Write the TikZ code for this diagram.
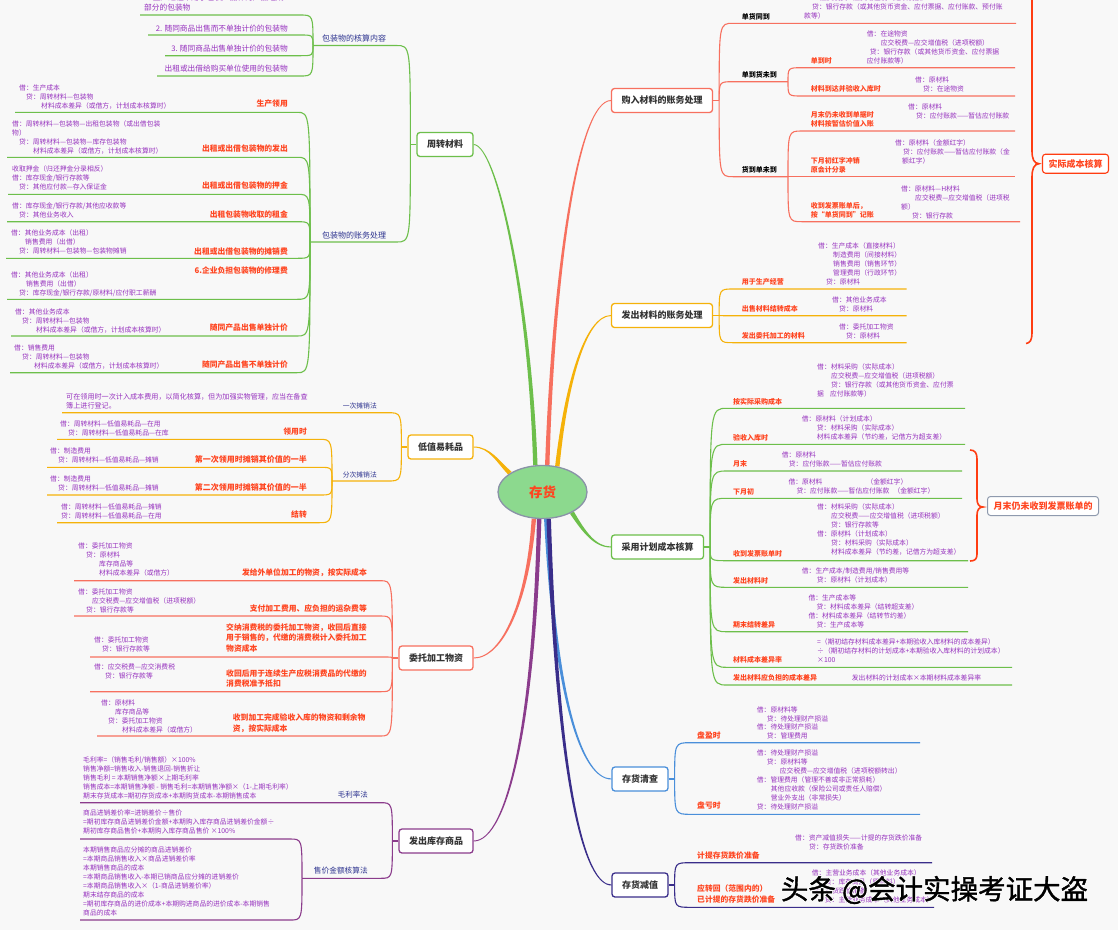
\documentclass[tikz,border=0pt]{standalone}
\usepackage{fontspec}
\setmainfont{Noto Sans CJK SC}
\newfontfamily\wmhalo{Noto Sans CJK SC}[FakeBold=7]
\newfontfamily\wmtext{Noto Sans CJK SC}[FakeBold=1.5]
\usetikzlibrary{calc,shapes.geometric,backgrounds}
\definecolor{bgc}{HTML}{F8F8F8}
\definecolor{cgreen}{HTML}{6DBF4B}
\definecolor{cred}{HTML}{F7705F}
\definecolor{corange}{HTML}{F5B20A}
\definecolor{cpurple}{HTML}{8B3C8C}
\definecolor{cblue}{HTML}{4A8FDA}
\definecolor{cindigo}{HTML}{3A2E8A}
\definecolor{tpur}{HTML}{9631BE}
\definecolor{tred}{HTML}{FF4520}
\definecolor{tnavy}{HTML}{2D338F}
\definecolor{tbox}{HTML}{333333}
\definecolor{bracec}{HTML}{FF3D12}
\definecolor{ellf}{HTML}{8CD98E}
\definecolor{elld}{HTML}{8A92A8}
\definecolor{graybd}{HTML}{8F9AAE}
\newcommand\ii[1]{\hspace*{#1pt}}
\newcommand\kid[4]{\draw[#1] (#2) .. controls ($(#2 |- #4)$) and ($(#2 |- #4)$) .. ($(#2 |- #4)+(#3,0)$) -- (#4);}
\newcommand\taper[5]{\fill[#1] ($#2!2.2pt!90:#3$) .. controls ($#3!1.4pt!90:#4$) and ($#4!0.8pt!-90:#3$) .. ($#5!0.5pt!-90:#4$) -- ($#5!0.5pt!90:#4$) .. controls ($#4!0.8pt!90:#3$) and ($#3!1.4pt!-90:#4$) .. ($#2!2.2pt!-90:#3$) -- cycle;}
\tikzset{
 box/.style={draw, rounded corners=3pt, line width=1.3pt, fill=white, inner xsep=10pt, inner ysep=0pt, minimum height=24pt, text=tbox, font=\fontsize{9}{11}\selectfont\bfseries},
 pur/.style={anchor=north west, inner sep=0pt, align=left, text=tpur, font=\fontsize{6.8}{9}\selectfont},
 purl/.style={inner sep=0pt, text=tpur, font=\fontsize{7.7}{9.3}\selectfont},
 lred/.style={inner sep=0pt, text=tred, font=\fontsize{7.8}{10.3}\selectfont\bfseries},
 sred/.style={inner sep=0pt, text=tred, font=\fontsize{7}{9}\selectfont\bfseries},
 lnavy/.style={inner sep=0pt, text=tnavy, font=\fontsize{7.5}{9}\selectfont},
 lblk/.style={inner sep=0pt, text=black, font=\fontsize{7}{9}\selectfont\bfseries},
 br/.style={line width=1.1pt},
 bracel/.style={draw=bracec, line width=1.6pt},
}
\begin{document}
\begin{tikzpicture}[x=1pt,y=-1pt]
\useasboundingbox (0,0) rectangle (1118,930);
% ---------- central node and main boxes
\node[ellipse, draw=elld, line width=1.3pt, fill=ellf, minimum width=89pt, minimum height=53pt, inner sep=0pt, text=tred, font=\fontsize{13.5}{15}\selectfont\bfseries] (cx) at (542.5,492) {存货};
\node[box, draw=cgreen] (zz) at (445,144.5) {周转材料};
\node[box, draw=cred] (gr) at (662,100.5) {购入材料的账务处理};
\node[box, draw=corange] (fc) at (662,315.5) {发出材料的账务处理};
\node[box, draw=corange] (dz) at (440.5,447) {低值易耗品};
\node[box, draw=cgreen] (jh) at (657.5,547) {采用计划成本核算};
\node[box, draw=cred] (wt) at (436,658) {委托加工物资};
\node[box, draw=cpurple] (ck) at (436,841) {发出库存商品};
\node[box, draw=cblue] (qc) at (640,779) {存货清查};
\node[box, draw=cindigo] (jz) at (640,885) {存货减值};
\begin{pgfonlayer}{background}
\fill[bgc] (0,0) rectangle (1118,930);
\taper{cgreen}{(cx.105)}{(530,300)}{(497,145)}{(zz.east)}
\taper{cred}{(cx.80)}{(553,280)}{(577,101)}{(gr.west)}
\taper{corange}{(cx.60)}{(566,385)}{(585,316)}{(fc.west)}
\taper{corange}{(cx.150)}{(498,462)}{(490,447)}{(dz.east)}
\taper{cgreen}{(cx.-35)}{(584,532)}{(595,547)}{(jh.west)}
\taper{cred}{(cx.-108)}{(528,600)}{(503,658)}{(wt.east)}
\taper{cpurple}{(cx.-97)}{(534,720)}{(508,841)}{(ck.east)}
\taper{cblue}{(cx.-82)}{(555,700)}{(582,779)}{(qc.west)}
\taper{cindigo}{(cx.-77)}{(558,790)}{(585,885)}{(jz.west)}
\end{pgfonlayer}

% ================= 周转材料
\coordinate (zzj) at ($(zz.west)+(-6,0)$);
\draw[br,cgreen] (zz.west) -- (zzj);
\coordinate (hs) at (313,45.5);
\coordinate (hz) at (310,242);
\kid{br,cgreen}{zzj}{-14}{hs}
\kid{br,cgreen}{zzj}{-14}{hz}
\node[lnavy, font=\fontsize{8}{9}\selectfont, anchor=west] (hsl) at (322,38) {包装物的核算内容};
\node[lnavy, font=\fontsize{8}{9}\selectfont, anchor=west] (hzl) at (322,235) {包装物的账务处理};
\coordinate (h1) at (140,15); \coordinate (h2) at (148,35); \coordinate (h3) at (165,55.7); \coordinate (h4) at (157,76);
\kid{br,cgreen}{hs}{-13}{h1}
\kid{br,cgreen}{hs}{-13}{h2}
\kid{br,cgreen}{hs}{-13}{h3}
\kid{br,cgreen}{hs}{-13}{h4}
\node[purl, anchor=north west, align=left] (t1) at (144,-6) {1. 生产过程中用于包装产品作为产品组成\\部分的包装物};
\node[purl, anchor=east] (t2) at (288,28.3) {2. 随同商品出售而不单独计价的包装物};
\node[purl, anchor=east] (t3) at (288,48.3) {3. 随同商品出售单独计价的包装物};
\node[purl, anchor=east] (t4) at (288,68.3) {出租或出借给购买单位使用的包装物};
\coordinate (z1) at (15,112.3); \coordinate (z2) at (7,157.3); \coordinate (z3) at (8,194.3); \coordinate (z4) at (7,221.7);
\coordinate (z5) at (6,258.3); \coordinate (z6) at (7,299.3); \coordinate (z7) at (11,336); \coordinate (z8) at (10,372.7);
\foreach \k in {z1,z2,z3,z4,z5,z6,z7,z8} {\kid{br,cgreen}{hz}{-13}{\k}}
\node[lred, anchor=east] (zl1) at (288,104) {生产领用};
\node[lred, anchor=east] (zl2) at (288,149) {出租或出借包装物的发出};
\node[lred, anchor=east] (zl3) at (288,186) {出租或出借包装物的押金};
\node[lred, anchor=east] (zl4) at (288,214.3) {出租包装物收取的租金};
\node[lred, anchor=east] (zl5) at (288,251.3) {出租或出借包装物的摊销费};
\node[lred, anchor=east] (zl6) at (288,271) {6.企业负担包装物的修理费};
\node[lred, anchor=east] (zl7) at (288,327.7) {随同产品出售单独计价};
\node[lred, anchor=east] (zl8) at (288,365) {随同产品出售不单独计价};
\node[pur] (zp1) at (19,87.7-3.6) {借：生产成本\\ \ii{7}贷：周转材料—包装物\\ \ii{22}材料成本差异（或借方，计划成本核算时）};
\node[pur] (zp2) at (12,124-3.6) {借：周转材料—包装物—出租包装物（或出借包装\\物）\\ \ii{7}贷：周转材料—包装物—库存包装物\\ \ii{21}材料成本差异（或借方，计划成本核算时）};
\node[pur] (zp3) at (12,169.3-3.6) {收取押金（归还押金分录相反）\\借：库存现金/银行存款等\\ \ii{7}贷：其他应付款—存入保证金};
\node[pur] (zp4) at (12,206-3.6) {借：库存现金/银行存款/其他应收款等\\ \ii{7}贷：其他业务收入};
\node[pur] (zp5) at (11,233.3-3.6) {借：其他业务成本（出租）\\ \ii{14}销售费用（出借）\\ \ii{8}贷：周转材料—包装物—包装物摊销};
\node[pur] (zp6) at (11,274.7-3.6) {借：其他业务成本（出租）\\ \ii{15}销售费用（出借）\\ \ii{8}贷：库存现金/银行存款/原材料/应付职工薪酬};
\node[pur] (zp7) at (15,311.7-3.6) {借：其他业务成本\\ \ii{7}贷：周转材料—包装物\\ \ii{21}材料成本差异（或借方，计划成本核算时）};
\node[pur] (zp8) at (14,348-3.6) {借：销售费用\\ \ii{8}贷：周转材料—包装物\\ \ii{20}材料成本差异（或借方，计划成本核算时）};

% ================= 低值易耗品
\coordinate (dzj) at ($(dz.west)+(-6,0)$);
\draw[br,corange] (dz.west) -- (dzj);
\coordinate (d1) at (62,412.7); \coordinate (d2) at (332,481);
\kid{br,corange}{dzj}{-14}{d1}
\kid{br,corange}{dzj}{-14}{d2}
\node[lnavy, font=\fontsize{6.8}{9}\selectfont, anchor=east] (dl1) at (377,405.7) {一次摊销法};
\node[lnavy, font=\fontsize{6.8}{9}\selectfont, anchor=east] (dl2) at (377,475) {分次摊销法};
\node[pur, font=\fontsize{7.1}{9}\selectfont] (dp0) at (66,396.7-3.6) {可在领用时一次计入成本费用，以简化核算，但为加强实物管理，应当在备查\\簿上进行登记。};
\coordinate (d3) at (57,439.3); \coordinate (d4) at (47,467.3); \coordinate (d5) at (47,495); \coordinate (d6) at (57,522.7);
\foreach \k in {d3,d4,d5,d6} {\kid{br,corange}{d2}{-13}{\k}}
\node[lred, anchor=east] (dl3) at (307,432) {领用时};
\node[lred, font=\fontsize{8}{10}\selectfont\bfseries, anchor=east] (dl4) at (307,459.3) {第一次领用时摊销其价值的一半};
\node[lred, font=\fontsize{8}{10}\selectfont\bfseries, anchor=east] (dl5) at (307,487.3) {第二次领用时摊销其价值的一半};
\node[lred, anchor=east] (dl6) at (307,515) {结转};
\node[pur] (dp3) at (60,423.7-3.6) {借：周转材料—低值易耗品—在用\\ \ii{8}贷：周转材料—低值易耗品—在库};
\node[pur] (dp4) at (50,451.3-3.6) {借：制造费用\\ \ii{8}贷：周转材料—低值易耗品—摊销};
\node[pur] (dp5) at (50,479.3-3.6) {借：制造费用\\ \ii{8}贷：周转材料—低值易耗品—摊销};
\node[pur] (dp6) at (61,506.7-3.6) {借：周转材料—低值易耗品—摊销\\贷：周转材料—低值易耗品—在用};

% ================= 委托加工物资
\coordinate (wtj) at ($(wt.west)+(-6,0)$);
\draw[br,cred] (wt.west) -- (wtj);
\coordinate (w1) at (74,580.7); \coordinate (w2) at (74,616); \coordinate (w3) at (90,657); \coordinate (w4) at (90,691.7); \coordinate (w5) at (97,736);
\foreach \k in {w1,w2,w3,w4,w5} {\kid{br,cred}{wtj}{-12}{\k}}
\node[lred, anchor=east] (wl1) at (367,572.7) {发给外单位加工的物资，按实际成本};
\node[lred, anchor=east] (wl2) at (367,608.3) {支付加工费用、应负担的运杂费等};
\node[lred, anchor=north west, align=left] (wl3) at (226,628-4.5) {交纳消费税的委托加工物资，收回后直接\\用于销售的，代缴的消费税计入委托加工\\物资成本};
\node[lred, anchor=north west, align=left] (wl4) at (226,673.7-4.5) {收回后用于连续生产应税消费品的代缴的\\消费税准予抵扣};
\node[lred, anchor=north west, align=left] (wl5) at (232.7,718.3-4.5) {收到加工完成验收入库的物资和剩余物\\资，按实际成本};
\node[pur] (wp1) at (78,546-3.6) {借：委托加工物资\\ \ii{8}贷：原材料\\ \ii{21}库存商品等\\ \ii{21}材料成本差异（或借方）};
\node[pur] (wp2) at (78,591.7-3.6) {借：委托加工物资\\ \ii{14}应交税费—应交增值税（进项税额）\\ \ii{8}贷：银行存款等};
\node[pur] (wp3) at (94,640.3-3.6) {借：委托加工物资\\ \ii{8}贷：银行存款等};
\node[pur] (wp4) at (94,667.3-3.6) {借：应交税费—应交消费税\\ \ii{11}贷：银行存款等};
\node[pur] (wp5) at (101,702.7-3.6) {借：原材料\\ \ii{14}库存商品等\\ \ii{7}贷：委托加工物资\\ \ii{21}材料成本差异（或借方）};

% ================= 发出库存商品
\coordinate (ckj) at ($(ck.west)+(-6,0)$);
\draw[br,cpurple] (ck.west) -- (ckj);
\coordinate (k1) at (80,802.7); \coordinate (k2) at (302,878.3);
\kid{br,cpurple}{ckj}{-12}{k1}
\kid{br,cpurple}{ckj}{-12}{k2}
\node[lnavy, anchor=east] (kl1) at (368,795) {毛利率法};
\node[lnavy, font=\fontsize{7.7}{9}\selectfont, anchor=east] (kl2) at (368,871) {售价金额核算法};
\coordinate (k3) at (80,839); \coordinate (k4) at (80,920);
\kid{br,cpurple}{k2}{-12}{k3}
\kid{br,cpurple}{k2}{-12}{k4}
\node[pur] (kp1) at (83,760-3.6) {毛利率=（销售毛利/销售额）×100\%\\销售净额=销售收入-销售退回-销售折让\\销售毛利 = 本期销售净额×上期毛利率\\销售成本=本期销售净额 - 销售毛利=本期销售净额×（1-上期毛利率）\\期末存货成本=期初存货成本+本期购货成本-本期销售成本};
\node[pur] (kp2) at (83,812.7-3.6) {商品进销差价率=进销差价÷售价\\=期初库存商品进销差价金额+本期购入库存商品进销差价金额÷\\期初库存商品售价+本期购入库存商品售价 ×100\%};
\node[pur] (kp3) at (83,850-3.6) {本期销售商品应分摊的商品进销差价\\=本期商品销售收入×商品进销差价率\\本期销售商品的成本\\=本期商品销售收入-本期已销商品应分摊的进销差价\\=本期商品销售收入×（1-商品进销差价率）\\期末结存商品的成本\\=期初库存商品的进价成本+本期购进商品的进价成本-本期销售\\商品的成本};

% ================= 购入材料的账务处理
\coordinate (grj) at ($(gr.east)+(6,0)$);
\draw[br,cred] (gr.east) -- (grj);
\coordinate (g1) at (1016,23.3); \coordinate (g2) at (788,81.7); \coordinate (g3) at (788,176.7);
\foreach \k in {g1,g2,g3} {\kid{br,cred}{grj}{14}{\k}}
\node[lblk, anchor=west] (gl1) at (741.7,16.7) {单货同到};
\node[lblk, anchor=west] (gl2) at (741.7,75) {单到货未到};
\node[lblk, anchor=west] (gl3) at (741.7,170) {货到单未到};
\node[pur, font=\fontsize{6.8}{9.3}\selectfont] (gp1) at (804,-11.3-3.6) {\ii{8}借：原材料\\ \ii{16}应交税费—应交增值税（进项税额）\\ \ii{8}贷：银行存款（或其他货币资金、应付票据、应付账款、预付账\\款等）};
\coordinate (g21) at (1015,67.7); \coordinate (g22) at (1015,96);
\kid{br,cred}{g2}{14}{g21}
\kid{br,cred}{g2}{14}{g22}
\node[sred, anchor=west] (gl21) at (810.7,61) {单到时};
\node[sred, anchor=west] (gl22) at (810.7,88.7) {材料到达并验收入库时};
\node[pur] (gp21) at (866.7,34-3.6) {借：在途物资\\ \ii{14}应交税费—应交增值税（进项税额）\\ \ii{3}贷：银行存款（或其他货币资金、应付票据\\应付账款等）};
\node[pur] (gp22) at (915,80-3.6) {借：原材料\\ \ii{8}贷：在途物资};
\coordinate (g31) at (1015,131); \coordinate (g32) at (1015,176.7); \coordinate (g33) at (1020,221.7);
\foreach \k in {g31,g32,g33} {\kid{br,cred}{g3}{14}{\k}}
\node[sred, anchor=north west, align=left] (gl31) at (810.7,115.7-4) {月末仍未收到单据时\\材料按暂估价值入账};
\node[sred, anchor=north west, align=left] (gl32) at (810.7,161-4) {下月初红字冲销\\原会计分录};
\node[sred, anchor=north west, align=left] (gl33) at (810.7,206.3-4) {收到发票账单后，\\按“单货同到”记账};
\node[pur] (gp31) at (908,106.7-3.6) {借：原材料\\ \ii{8}贷：应付账款——暂估应付账款};
\node[pur] (gp32) at (895,143.3-3.6) {借：原材料（金额红字）\\ \ii{8}贷：应付账款——暂估应付账款（金\\ \ii{7}额红字）};
\node[pur] (gp33) at (901,188.7-3.6) {借：原材料—H材料\\ \ii{14}应交税费—应交增值税（进项税\\额）\\ \ii{11}贷：银行存款};
\draw[bracel] (1025,-14) .. controls (1031,-14) and (1032,-9) .. (1032,-2) -- (1032,151) .. controls (1032,159) and (1034,163.5) .. (1039,163.7) .. controls (1034,164) and (1032,169) .. (1032,177) -- (1032,333) .. controls (1032,340) and (1030,343) .. (1026,343.5);
\node[box, draw=bracec, line width=1.1pt, text=tred, font=\fontsize{9}{11}\selectfont\bfseries, minimum height=19pt, inner xsep=6pt] (sj) at (1075.5,163.7) {实际成本核算};

% ================= 发出材料的账务处理
\coordinate (fcj) at ($(fc.east)+(6,0)$);
\draw[br,corange] (fc.east) -- (fcj);
\coordinate (f1) at (906.7,289); \coordinate (f2) at (906.7,315.7); \coordinate (f3) at (906.7,342.7);
\foreach \k in {f1,f2,f3} {\kid{br,corange}{fcj}{14}{\k}}
\node[sred, anchor=west] (fl1) at (741.7,281.7) {用于生产经营};
\node[sred, anchor=west] (fl2) at (741.7,309) {出售材料结转成本};
\node[sred, anchor=west] (fl3) at (741.7,335.7) {发出委托加工的材料};
\node[pur] (fp1) at (818,246-3.6) {借：生产成本（直接材料）\\ \ii{15}制造费用（间接材料）\\ \ii{15}销售费用（销售环节）\\ \ii{15}管理费用（行政环节）\\ \ii{8}贷：原材料};
\node[pur] (fp2) at (832,300-3.6) {借：其他业务成本\\ \ii{7}贷：原材料};
\node[pur] (fp3) at (839,326.7-3.6) {借：委托加工物资\\ \ii{7}贷：原材料};

% ================= 采用计划成本核算
\coordinate (jhj) at ($(jh.east)+(6,0)$);
\draw[br,cgreen] (jh.east) -- (jhj);
\coordinate (j1) at (965,408.3); \coordinate (j2) at (965,444.3); \coordinate (j3) at (962,471); \coordinate (j4) at (962,498.3);
\coordinate (j5) at (968,560.7); \coordinate (j6) at (968,587.3); \coordinate (j7) at (968,631.7); \coordinate (j8) at (1012,667.3); \coordinate (j9) at (1012,685);
\foreach \k in {j1,j2,j3,j4,j5,j6,j7,j8,j9} {\kid{br,cgreen}{jhj}{17}{\k}}
\node[sred, anchor=west] (jl1) at (733,401.7) {按实际采购成本};
\node[sred, anchor=west] (jl2) at (733,437.7) {验收入库时};
\node[sred, anchor=west] (jl3) at (733,464.3) {月末};
\node[sred, anchor=west] (jl4) at (733,491.7) {下月初};
\node[sred, anchor=west] (jl5) at (733,554) {收到发票账单时};
\node[sred, anchor=west] (jl6) at (733,580.7) {发出材料时};
\node[sred, anchor=west] (jl7) at (733,625) {期末结转差异};
\node[sred, anchor=west] (jl8) at (733,660) {材料成本差异率};
\node[sred, anchor=west] (jl9) at (733,678.3) {发出材料应负担的成本差异};
\node[pur] (jp1) at (817,366.7-3.6) {借：材料采购（实际成本）\\ \ii{14}应交税费—应交增值税（进项税额）\\ \ii{14}贷：银行存款（或其他货币资金、应付票\\据\ii{6}应付账款等）};
\node[pur] (jp2) at (801.7,419.3-3.6) {借：原材料（计划成本）\\ \ii{15}贷：材料采购（实际成本）\\ \ii{15}材料成本差异（节约差，记借方为超支差）};
\node[pur] (jp3) at (781.7,455-3.6) {借：原材料\\ \ii{7}贷：应付账款——暂估应付账款};
\node[pur] (jp4) at (788.3,482-3.6) {借：原材料\ii{44}（金额红字）\\ \ii{8}贷：应付账款——暂估应付账款\ii{4}（金额红字）};
\node[pur] (jp5) at (817,506.7-3.6) {借：材料采购（实际成本）\\ \ii{14}应交税费——应交增值税（进项税额）\\ \ii{14}贷：银行存款等\\借：原材料（计划成本）\\ \ii{14}贷：材料采购（实际成本）\\ \ii{14}材料成本差异（节约差，记借方为超支差）};
\node[pur] (jp6) at (801.7,570.7-3.6) {借：生产成本/制造费用/销售费用等\\ \ii{15}贷：原材料（计划成本）};
\node[pur] (jp7) at (808.3,598-3.6) {借：生产成本等\\ \ii{8}贷：材料成本差异（结转超支差）\\借：材料成本差异（结转节约差）\\ \ii{8}贷：生产成本等};
\node[pur] (jp8) at (817,642.3-3.6) {=（期初结存材料成本差异+本期验收入库材料的成本差异）\\÷（期初结存材料的计划成本+本期验收入库材料的计划成本）\\×100};
\node[pur] (jp9) at (851.7,678.3-3.6) {发出材料的计划成本×本期材料成本差异率};
\draw[bracel] (970,450) .. controls (975,450) and (977,453) .. (977,459) -- (977,499) .. controls (977,504) and (979,507) .. (983,507) .. controls (979,507) and (977,510) .. (977,515) -- (977,554) .. controls (977,559) and (975,561) .. (970,561);
\node[box, draw=graybd, line width=1pt, text=tred, font=\fontsize{9}{11}\selectfont\bfseries, minimum height=19pt, inner xsep=6pt] (yw) at (1043,506) {月末仍未收到发票账单的};

% ================= 存货清查
\coordinate (qcj) at ($(qc.east)+(6,0)$);
\draw[br,cblue] (qc.east) -- (qcj);
\coordinate (q1) at (920,742.7); \coordinate (q2) at (920,814.3);
\kid{br,cblue}{qcj}{16}{q1}
\kid{br,cblue}{qcj}{16}{q2}
\node[lred, anchor=west] (ql1) at (697,735) {盘盈时};
\node[lred, anchor=west] (ql2) at (697,806) {盘亏时};
\node[pur, font=\fontsize{6.8}{8.7}\selectfont] (qp1) at (756.7,710-3.6) {借：原材料等\\ \ii{10}贷：待处理财产损溢\\借：待处理财产损溢\\ \ii{10}贷：管理费用};
\node[pur] (qp2) at (756.7,753.3-3.6) {借：待处理财产损溢\\ \ii{10}贷：原材料等\\ \ii{23}应交税费—应交增值税（进项税额转出）\\借：管理费用（管理不善或非正常损耗）\\ \ii{14}其他应收款（保险公司或责任人赔偿）\\ \ii{14}营业外支出（非常损失）\\贷：待处理财产损溢};

% ================= 存货减值
\coordinate (jzj) at ($(jz.east)+(6,0)$);
\draw[br,cindigo] (jz.east) -- (jzj);
\coordinate (r1) at (932,862.7); \coordinate (r2) at (934,907.3);
\kid{br,cindigo}{jzj}{16}{r1}
\kid{br,cindigo}{jzj}{16}{r2}
\node[lred, anchor=west] (rl1) at (697,855.7) {计提存货跌价准备};
\node[lred, anchor=north west, align=left] (rl2) at (697,889.3-4.5) {应转回（范围内的）\\已计提的存货跌价准备};
\node[pur] (rp1) at (795,838.3-3.6) {借：资产减值损失——计提的存货跌价准备\\ \ii{14}贷：存货跌价准备};
\node[pur] (rp2) at (811.7,873.3-3.6) {借：主营业务成本（其他业务成本）\\ \ii{13}贷：库存商品（原材料）\\借：存货跌价准备\\ \ii{13}贷：主营业务成本（其他业务成本）};

% ================= watermark
\node[inner sep=0pt, text=white, font=\wmhalo\fontsize{27.5}{30}\selectfont] (wmh) at (934.5,890) {头条 @会计实操考证大盗};
\node[inner sep=0pt, text=black, font=\wmtext\fontsize{27.5}{30}\selectfont] (wmk) at (934.5,890) {头条 @会计实操考证大盗};
\end{tikzpicture}
\end{document}
